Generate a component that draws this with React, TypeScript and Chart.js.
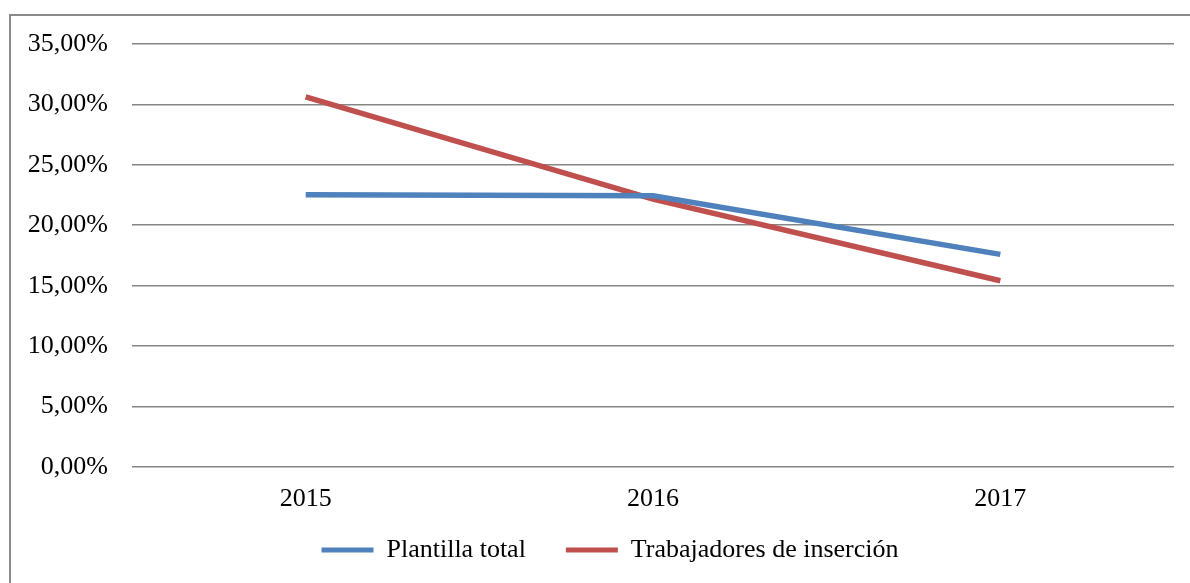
import React, { useEffect, useRef } from "react";
import { Chart, registerables } from "chart.js";

Chart.register(...registerables);

const categories = ["2015", "2016", "2017"];
const plantillaTotal = [22.53, 22.45, 17.59];
const trabajadoresInsercion = [30.62, 22.17, 15.41];
const seriesNames = ["Plantilla total", "Trabajadores de inserción"];
const yMin = 0;
const yMax = 35;
const yStep = 5;

const FONT = '"Liberation Serif", "Times New Roman", serif';

// small layout nudge for the legend block (centre it like the original)
const LEGEND_SHIFT_X = 10;
const LEGEND_SHIFT_Y = -20;

const legendShift = {
  id: "legendShift",
  afterLayout(chart: any) {
    const l = chart.legend;
    if (!l) return;
    l.left += LEGEND_SHIFT_X;
    l.right += LEGEND_SHIFT_X;
    l.top += LEGEND_SHIFT_Y;
    l.height = l.bottom - l.top;
  },
};

export default function App() {
  const ref = useRef<HTMLCanvasElement | null>(null);

  useEffect(() => {
    if (!ref.current) return;
    const chart = new Chart(ref.current, {
      type: "line",
      data: {
        labels: categories,
        datasets: [
          {
            label: seriesNames[0],
            data: plantillaTotal,
            borderColor: "#4F81BD",
            backgroundColor: "#4F81BD",
            borderWidth: 5.5,
            pointRadius: 0,
            tension: 0,
          },
          {
            label: seriesNames[1],
            data: trabajadoresInsercion,
            borderColor: "#C0504D",
            backgroundColor: "#C0504D",
            borderWidth: 5.5,
            pointRadius: 0,
            tension: 0,
          },
        ],
      },
      plugins: [legendShift],
      options: {
        responsive: false,
        animation: false,
        layout: { padding: { left: 26, right: 16, top: 44, bottom: 8 } },
        plugins: {
          tooltip: { enabled: false },
          legend: {
            position: "bottom",
            maxHeight: 58,
            labels: {
              color: "#000",
              font: { family: FONT, size: 26 },
              boxWidth: 52,
              boxHeight: 5,
              padding: 40,
              generateLabels: (c: any) =>
                Chart.defaults.plugins.legend.labels
                  .generateLabels(c)
                  .map((it: any) => ({ ...it, lineWidth: 0 })),
            },
          },
        },
        scales: {
          x: {
            offset: true,
            grid: { display: false, drawTicks: false },
            border: { display: false },
            ticks: {
              color: "#000",
              font: { family: FONT, size: 26 },
              padding: 17,
            },
            afterFit: (s: any) => {
              s.height = 50;
              s.paddingLeft = 0;
              s.paddingRight = 0;
            },
          },
          y: {
            min: yMin,
            max: yMax,
            grid: {
              color: "#858585",
              lineWidth: 1.6,
              drawTicks: false,
            },
            border: { display: false },
            ticks: {
              stepSize: yStep,
              color: "#000",
              font: { family: FONT, size: 26 },
              padding: 24,
              callback: (v: any) =>
                Number(v).toFixed(2).replace(".", ",") + "%",
            },
            afterFit: (s: any) => {
              s.width = 106;
              s.paddingTop = 0;
              s.paddingBottom = 0;
            },
          },
        },
      },
    });
    return () => chart.destroy();
  }, []);

  return (
    <div
      style={{
        position: "fixed",
        left: 0,
        top: 0,
        width: 1190,
        height: 583,
        overflow: "hidden",
        background: "#fff",
      }}
    >
      <div
        style={{
          position: "absolute",
          left: 9,
          top: 14,
          width: 1300,
          height: 700,
          borderLeft: "2px solid #8a8a8a",
          borderTop: "2px solid #8a8a8a",
        }}
      />
      <canvas
        ref={ref}
        width={1190}
        height={583}
        style={{ position: "absolute", left: 0, top: 0, display: "block" }}
      />
    </div>
  );
}
